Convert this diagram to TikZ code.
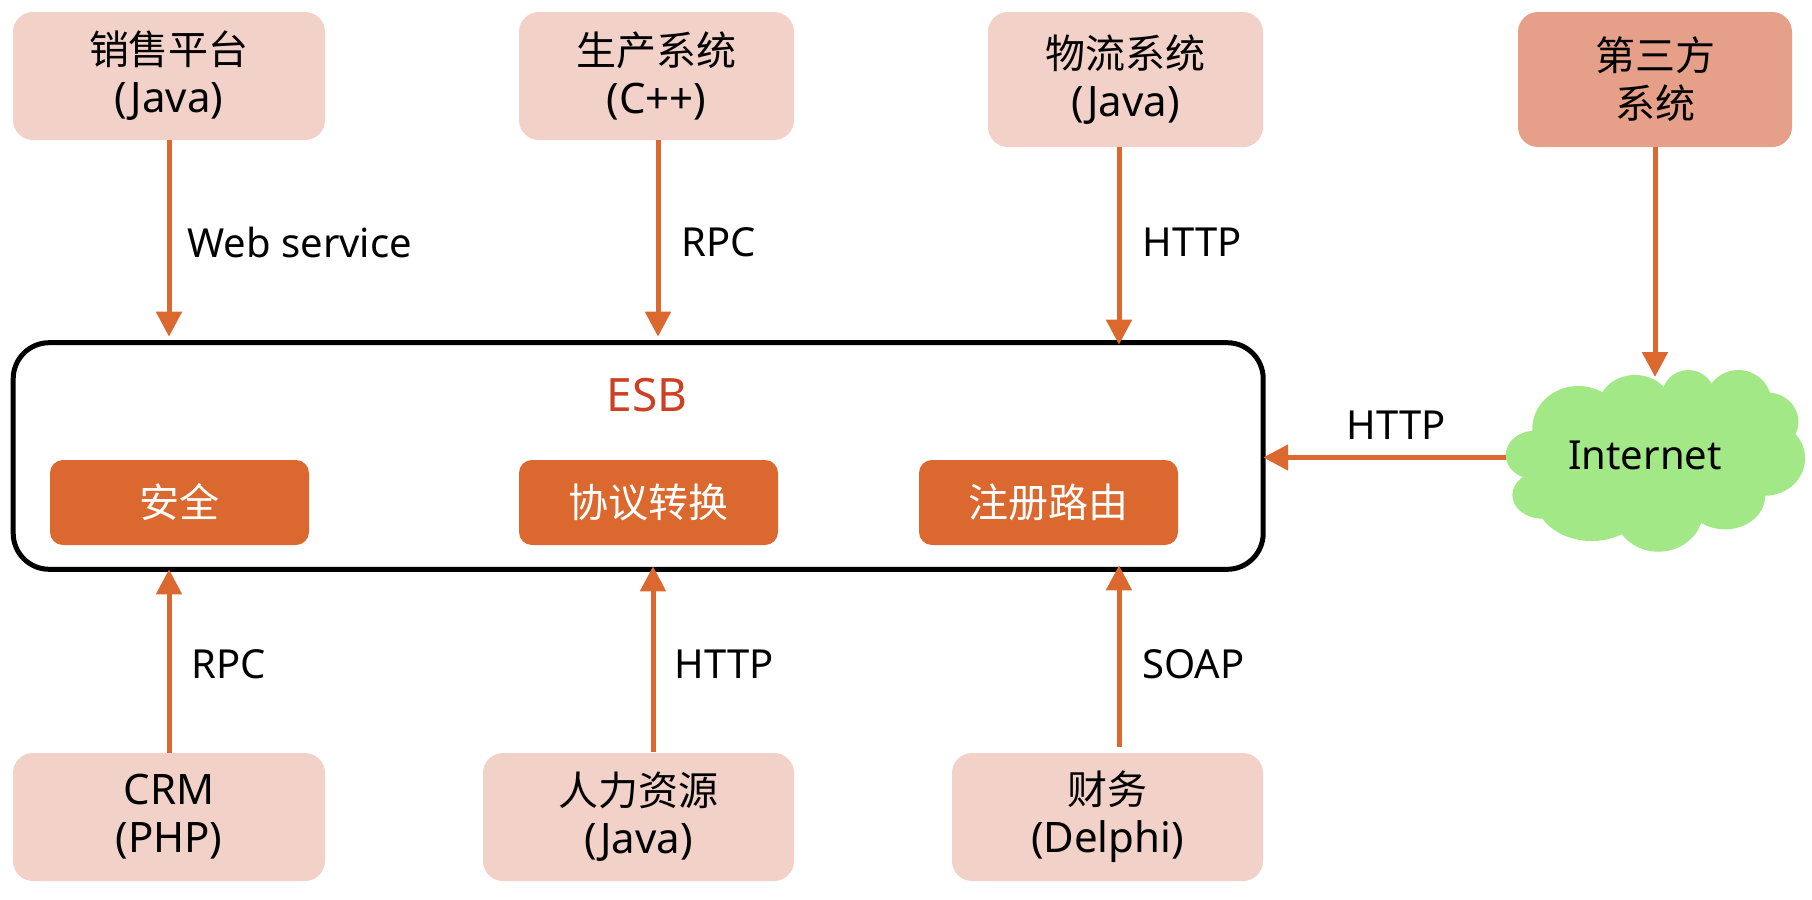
\documentclass[tikz,border=0pt]{standalone}
\usepackage{fontspec}
\setmainfont{Noto Sans}
\newfontfamily\cjk{Noto Sans CJK SC}
\usetikzlibrary{arrows.meta,calc}

\definecolor{boxpink}{HTML}{F1D1C8}
\definecolor{boxdark}{HTML}{E6A08A}
\definecolor{linkorange}{HTML}{DB682F}
\definecolor{esbred}{HTML}{CC4125}
\definecolor{cloudgreen}{HTML}{A2E887}

% Chinese text inside a node
\newcommand{\zh}[1]{{\cjk\fontsize{20}{24}\selectfont #1}}

\begin{document}
\begin{tikzpicture}[
		x=0.5pt, y=-0.5pt,
		line cap=butt, line join=round,
		>={Triangle[length=12.5pt,width=12.5pt]},
		sysbox/.style={fill=boxpink, rounded corners=10pt, inner sep=0pt, align=center,
			font=\fontsize{21}{24}\selectfont},
		modbox/.style={fill=linkorange, text=white, rounded corners=6.5pt, inner sep=0pt,
			minimum width=129.5pt, minimum height=42.5pt},
		link/.style={->, line width=2.5pt, linkorange},
		linklabel/.style={inner sep=0pt, font=\fontsize{20}{24}\selectfont}
		]
		
		% ---------- Canvas ----------
		\useasboundingbox (0,0) rectangle (1812,900);
		
		% ---------- Top row of systems ----------
		\node[sysbox, minimum width=156pt, minimum height=64pt] (sales) at (169,76) {\zh{销售平台}\\(Java)};
		\node[sysbox, minimum width=137.5pt, minimum height=64pt] (prod) at (656.5,76) {\zh{生产系统}\\(C++)};
		\node[sysbox, minimum width=137.5pt, minimum height=67.5pt] (logi) at (1125.5,79.5) {\zh{物流系统}\\(Java)};
		\node[sysbox, fill=boxdark, minimum width=137pt, minimum height=67.5pt] (third) at (1655,79.5) {\zh{第三方}\\\zh{系统}};
		
		% ---------- ESB frame with its modules ----------
		\node[draw=black, line width=2.5pt, rounded corners=18pt, inner sep=0pt, outer sep=0pt,
			minimum width=625pt, minimum height=113.3pt] (esb) at (638.2,456) {};
		\node[inner sep=0pt, text=esbred, font=\fontsize{23}{28}\selectfont] (esbname) at (647,395) {ESB};
		\node[modbox] (safe) at (179.5,502.5) {\zh{安全}};
		\node[modbox] (proto) at (648.5,502.5) {\zh{协议转换}};
		\node[modbox] (route) at (1048.5,502.5) {\zh{注册路由}};
		
		% ---------- Bottom row of systems ----------
		\node[sysbox, minimum width=156pt, minimum height=64pt] (crm) at (169,817) {CRM\\(PHP)};
		\node[sysbox, minimum width=155.5pt, minimum height=64pt] (hr) at (638.5,817) {\zh{人力资源}\\(Java)};
		\node[sysbox, minimum width=155.5pt, minimum height=64pt] (fin) at (1107.5,817) {\zh{财务}\\(Delphi)};
		
		% ---------- Internet cloud, a heap of ellipses ----------
		\begin{scope}[shift={(1480,340)}, x=0.1667pt, y=-0.1667pt]
			\foreach \cx/\cy/\rx/\ry in {295/265/138/127, 465/200/110/95, 625/170/80/80, 775/190/100/100,
				860/245/95/88, 855/355/120/112, 735/468/120/100, 535/510/135/125,
				335/470/170/133, 187/465/90/71, 165/345/88/73, 520/350/300/200}
				\fill[cloudgreen] (\cx,\cy) ellipse[x radius=\rx, y radius=\ry];
		\end{scope}
		\node[linklabel] (internet) at (1645,455) {Internet};
		
		% ---------- Links from the top ----------
		\coordinate (prodout) at (658,140);
		\coordinate (logiout) at (1119,147);
		\draw[link, shorten >=3pt] (sales.south) -- (sales.south |- esb.north);
		\draw[link, shorten >=3pt] (prodout) -- (prodout |- esb.north);
		\draw[link, shorten >=-1pt] (logiout) -- (logiout |- esb.north);
		\coordinate (thirdin) at (1655,377);
		\draw[link] (third.south) -- (thirdin);
		\coordinate (cloudout) at (1506,457.5);
		\draw[link] (cloudout) -- (cloudout -| esb.east);
		
		% ---------- Links from the bottom ----------
		\coordinate (hrout) at (653,752);
		\coordinate (finout) at (1119,747);
		\draw[link] (crm.north) -- (crm.north |- esb.south);
		\draw[link, shorten >=-1.5pt] (hrout) -- (hrout |- esb.south);
		\draw[link, shorten >=-2pt] (finout) -- (finout |- esb.south);
		
		% ---------- Link labels ----------
		\node[linklabel, anchor=west] (lbweb) at (187,242) {Web service};
		\node[linklabel, anchor=west] (lbrpc) at (681,242) {RPC};
		\node[linklabel, anchor=west] (lbhttp) at (1142,242) {HTTP};
		\node[linklabel] (lbnet) at (1396,425) {HTTP};
		\node[linklabel, anchor=west] (lbcrm) at (191,664) {RPC};
		\node[linklabel, anchor=west] (lbhr) at (674,664) {HTTP};
		\node[linklabel, anchor=west] (lbfin) at (1142,664) {SOAP};
		
	\end{tikzpicture}
\end{document}
